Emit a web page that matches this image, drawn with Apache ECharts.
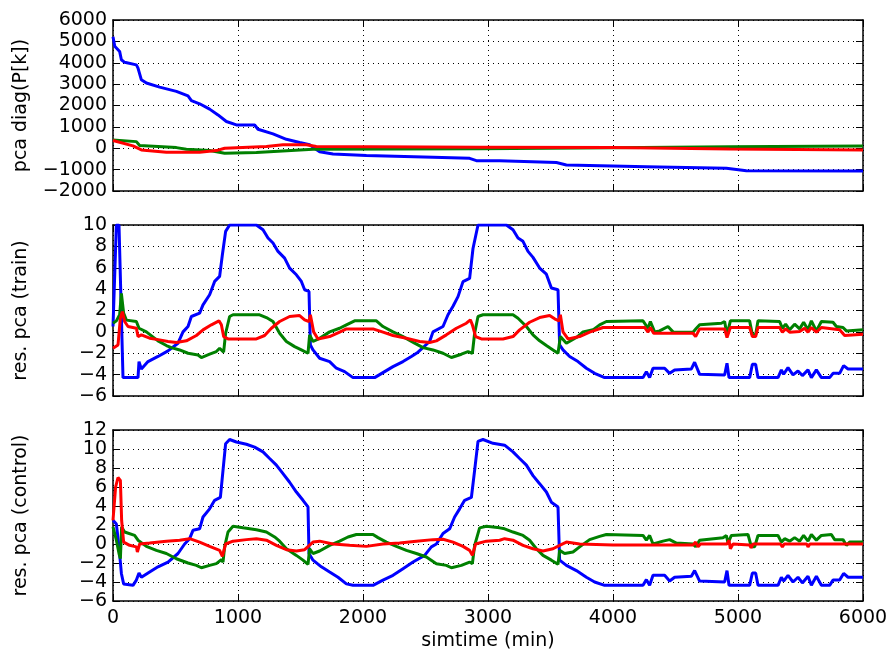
<!DOCTYPE html>
<html>
<head>
<meta charset="utf-8">
<script src="https://cdn.jsdelivr.net/npm/echarts@6/dist/echarts.min.js"></script>
<style>
  html, body { margin: 0; background: #fff; }
  #chart { width: 890px; height: 656px; }
</style>
</head>
<body>
<div id="chart"></div>
<script>
// top panel: pca diag(P[k])
var pcaBlue = [[0,5220],[14,4770],[53,4530],[67,4140],[93,4020],[187,3900],[200,3750],[227,3200],[267,3050],[373,2860],[507,2660],[600,2450],[627,2230],[693,2080],[773,1830],[840,1560],[907,1250],[987,1090],[1133,1090],[1160,890],[1280,670],[1387,420],[1493,270],[1573,160],[1653,-160],[1760,-270],[2027,-340],[2560,-420],[2853,-470],[2907,-580],[3093,-580],[3547,-670],[3627,-780],[4267,-860],[4907,-940],[5067,-1050],[6000,-1060]];
var pcaGreen = [[0,390],[187,310],[213,130],[507,30],[587,-50],[773,-110],[893,-230],[1147,-200],[1600,-50],[2933,-20],[4000,20],[4933,70],[6000,100]];
var pcaRed = [[0,360],[160,110],[227,-80],[427,-190],[693,-190],[827,-110],[893,0],[1227,80],[1360,160],[1547,160],[1627,80],[2933,50],[4000,30],[4933,-40],[6000,-80]];

// middle panel: res. pca (train)
var trainBlue = [[0,0.5],[27,10],[48,10],[80,-4.28],[200,-4.28],[208,-2.78],[227,-3.47],[280,-2.78],[360,-2.3],[440,-1.78],[520,-1.06],[560,0],[600,0.5],[627,1.44],[693,1.75],[720,2.53],[773,3.47],[813,4.72],[853,5.19],[875,7.22],[901,9.4],[933,10],[1147,10],[1200,9.56],[1240,8.78],[1280,8.31],[1320,7.53],[1373,6.9],[1413,5.97],[1467,5.34],[1507,4.72],[1533,3.94],[1568,3.78],[1579,-1.22],[1600,-1.69],[1653,-2.47],[1733,-2.78],[1787,-3.4],[1853,-3.72],[1920,-4.28],[2093,-4.28],[2173,-3.72],[2240,-3.25],[2320,-2.78],[2387,-2.3],[2440,-1.9],[2533,-0.9],[2560,0],[2640,0.5],[2680,1.6],[2720,2.4],[2760,3.3],[2800,4.7],[2853,5.0],[2880,7.8],[2920,10],[3147,10],[3200,9.56],[3240,8.78],[3280,8.47],[3320,7.53],[3360,6.97],[3413,5.97],[3467,5.4],[3507,4.1],[3560,3.94],[3573,-1.22],[3600,-1.69],[3653,-2.3],[3720,-2.78],[3787,-3.4],[3853,-3.88],[3933,-4.28],[4240,-4.28],[4267,-3.72],[4293,-4.28],[4320,-3.4],[4413,-3.4],[4453,-3.88],[4493,-3.56],[4627,-3.47],[4653,-2.84],[4693,-3.97],[4893,-4.03],[4912,-2.94],[4928,-4.28],[5093,-4.28],[5115,-3.03],[5141,-3.03],[5160,-4.28],[5320,-4.28],[5347,-3.56],[5365,-3.97],[5400,-3.34],[5440,-4.03],[5480,-3.66],[5515,-4.09],[5560,-3.56],[5587,-4.28],[5627,-3.56],[5667,-4.28],[5733,-4.28],[5760,-3.88],[5813,-3.88],[5845,-3.16],[5880,-3.47],[6000,-3.47]];
var trainGreen = [[0,0.81],[27,1.03],[53,1.6],[67,3.6],[85,1.75],[107,1.1],[187,0.97],[208,0.34],[267,0],[360,-0.84],[427,-1.28],[467,-1.47],[533,-1.69],[600,-2.0],[680,-2.16],[707,-2.4],[773,-2.09],[827,-1.84],[853,-1.53],[885,-1.9],[901,-0.13],[933,1.44],[960,1.6],[1173,1.6],[1227,1.34],[1280,0.97],[1333,-0.13],[1387,-0.9],[1453,-1.38],[1507,-1.69],[1560,-2.0],[1573,-0.28],[1600,-0.9],[1653,-0.6],[1733,0],[1813,0.34],[1867,0.66],[1933,1.03],[2107,1.03],[2160,0.5],[2240,0],[2320,-0.44],[2413,-1.06],[2480,-1.47],[2560,-1.69],[2640,-2.0],[2707,-2.4],[2787,-2.09],[2840,-1.84],[2875,-2.0],[2893,-0.13],[2920,1.44],[2960,1.6],[3200,1.6],[3240,1.28],[3307,0.5],[3360,-0.28],[3413,-0.84],[3467,-1.28],[3520,-1.69],[3560,-2.0],[3579,-0.44],[3627,-1.06],[3707,-0.53],[3760,0],[3840,0.19],[3893,0.66],[3947,0.97],[4240,1.03],[4280,0.34],[4299,0.97],[4333,0],[4373,0.09],[4440,0.5],[4480,0],[4640,-0.03],[4667,0.34],[4693,0.66],[4867,0.81],[4893,0.97],[4912,-0.28],[4939,1.03],[5093,1.03],[5115,-0.28],[5141,-0.28],[5160,1.03],[5333,0.97],[5355,0.34],[5381,0.72],[5413,0.19],[5453,0.72],[5493,0.28],[5525,0.9],[5560,0.19],[5587,1.03],[5627,0.09],[5667,0.97],[5760,0.9],[5787,0.5],[5840,0.41],[5867,0.09],[6000,0.19]];
var trainRed = [[0,-1.53],[40,-1.22],[59,1.28],[75,1.9],[93,0.97],[120,0.5],[187,0.34],[200,-0.44],[227,-0.28],[293,-0.59],[373,-0.75],[440,-0.9],[507,-1.0],[587,-0.84],[667,-0.34],[720,0.19],[787,0.66],[848,1.03],[867,0.66],[885,-0.44],[920,-0.66],[1147,-0.66],[1213,-0.34],[1267,0.34],[1333,0.97],[1413,1.44],[1493,1.53],[1533,1.13],[1568,0.97],[1579,1.6],[1605,0],[1640,-0.66],[1733,-0.44],[1813,-0.03],[1867,0.28],[2080,0.28],[2160,-0.03],[2240,-0.34],[2347,-0.59],[2453,-0.9],[2533,-1.0],[2587,-0.84],[2667,-0.28],[2747,0.34],[2827,0.81],[2859,1.13],[2875,0.66],[2901,-0.44],[2947,-0.66],[3120,-0.66],[3200,-0.44],[3253,0.19],[3333,0.9],[3413,1.34],[3493,1.53],[3533,1.22],[3568,1.03],[3579,1.6],[3600,0],[3640,-0.66],[3733,-0.44],[3813,-0.03],[3920,0.41],[4253,0.41],[4280,-0.03],[4299,0.41],[4325,-0.13],[4640,-0.13],[4661,-0.44],[4693,0.28],[4893,0.28],[4912,-0.53],[4939,0.41],[5093,0.41],[5115,-0.44],[5141,-0.44],[5160,0.41],[5333,0.41],[5355,-0.03],[5381,0.28],[5413,-0.03],[5493,0.03],[5533,0.34],[5560,-0.03],[5587,0.41],[5627,-0.03],[5667,0.41],[5813,0.19],[5853,-0.34],[6000,-0.22]];

// bottom panel: res. pca (control)
var ctrlBlue = [[0,2.5],[27,2.1],[48,-0.3],[67,-3.1],[85,-4.2],[160,-4.35],[187,-3.8],[208,-3.05],[227,-3.5],[293,-2.95],[360,-2.4],[440,-1.9],[520,-1.0],[573,0],[613,0.56],[640,1.44],[693,1.6],[720,2.84],[773,3.7],[813,4.6],[859,4.9],[880,7.75],[901,10.56],[933,11.0],[987,10.74],[1067,10.5],[1133,10.2],[1200,9.7],[1253,9.0],[1307,8.3],[1360,7.4],[1413,6.5],[1467,5.47],[1520,4.6],[1560,3.9],[1568,-1.0],[1600,-1.7],[1667,-2.4],[1733,-2.95],[1800,-3.5],[1867,-4.2],[1920,-4.35],[2080,-4.35],[2160,-3.8],[2240,-3.3],[2320,-2.6],[2400,-1.9],[2493,-1.2],[2547,-0.3],[2587,0],[2640,1.1],[2693,1.6],[2733,2.84],[2773,3.7],[2813,4.6],[2867,4.9],[2893,7.75],[2920,10.8],[2960,11.0],[3040,10.6],[3133,10.4],[3200,9.7],[3253,9.0],[3307,8.3],[3360,7.2],[3413,6.35],[3467,5.47],[3507,4.4],[3560,3.9],[3573,-1.7],[3627,-2.25],[3707,-2.8],[3787,-3.5],[3853,-4.0],[3933,-4.35],[4240,-4.35],[4267,-3.75],[4293,-4.35],[4320,-3.3],[4413,-3.3],[4453,-3.9],[4493,-3.5],[4627,-3.4],[4653,-2.8],[4693,-3.9],[4893,-4.0],[4912,-2.8],[4928,-4.35],[5093,-4.35],[5115,-3.05],[5141,-3.05],[5160,-4.35],[5320,-4.35],[5347,-3.5],[5365,-3.9],[5400,-3.3],[5440,-4.0],[5480,-3.5],[5515,-4.1],[5560,-3.4],[5587,-4.35],[5627,-3.4],[5667,-4.35],[5733,-4.35],[5760,-3.8],[5813,-3.8],[5845,-3.1],[5880,-3.5],[6000,-3.5]];
var ctrlGreen = [[0,1.8],[27,0.4],[48,-1.0],[59,-1.55],[69,1.8],[93,1.26],[173,0.9],[200,0.4],[267,-0.25],[347,-0.67],[427,-1.0],[507,-1.55],[600,-2.0],[667,-2.25],[707,-2.5],[773,-2.25],[827,-2.07],[867,-1.65],[880,-1.9],[893,-0.3],[920,1.26],[960,1.86],[1040,1.7],[1147,1.5],[1227,1.26],[1293,0.74],[1333,0.3],[1387,-0.5],[1467,-1.2],[1520,-1.7],[1560,-2.14],[1573,-0.5],[1600,-1.0],[1653,-0.74],[1733,-0.14],[1813,0.3],[1880,0.74],[1947,1.0],[2080,1.0],[2120,0.67],[2187,0.2],[2267,-0.25],[2347,-0.67],[2427,-1.0],[2507,-1.37],[2587,-2.07],[2667,-2.25],[2707,-2.5],[2787,-2.25],[2853,-1.9],[2875,-2.07],[2893,-0.14],[2933,1.7],[2987,1.86],[3093,1.7],[3133,1.6],[3200,1.26],[3280,0.9],[3333,0.4],[3387,-0.5],[3440,-1.2],[3507,-1.7],[3560,-2.14],[3573,-0.67],[3613,-1.0],[3680,-0.84],[3733,-0.3],[3813,0.46],[3893,0.8],[3947,1.0],[4240,0.9],[4267,0.4],[4293,0.9],[4320,0],[4400,0.3],[4453,0.46],[4507,0.1],[4640,0],[4661,-0.3],[4693,0.4],[4880,0.67],[4907,0.9],[4920,0.1],[4947,0.9],[5080,1.0],[5107,-0.3],[5133,-0.3],[5160,0.9],[5320,0.9],[5347,0.2],[5373,0.56],[5413,0.3],[5453,0.67],[5493,0.3],[5525,0.9],[5560,0.3],[5587,1.0],[5627,0.4],[5667,0.9],[5747,1.0],[5773,0.46],[5840,0.46],[5867,-0.14],[5893,0.2],[6000,0.2]];
var ctrlRed = [[0,2.5],[21,6.0],[40,7.0],[59,6.7],[69,2.5],[85,0.2],[133,-0.14],[187,-0.3],[195,-0.84],[213,0],[293,0.1],[427,0.3],[533,0.4],[613,0.56],[693,0.2],[773,-0.25],[853,-0.67],[875,-1.3],[901,0],[960,0.3],[1067,0.46],[1147,0.56],[1227,0.4],[1307,-0.14],[1387,-0.6],[1467,-0.74],[1533,-0.6],[1600,0.2],[1653,0.3],[1760,0],[1893,-0.14],[2027,-0.25],[2160,0],[2293,0.1],[2427,0.3],[2560,0.46],[2640,0.5],[2720,0.2],[2800,-0.25],[2853,-0.67],[2875,-1.2],[2901,0],[2987,0.3],[3093,0.4],[3133,0.56],[3200,0.4],[3280,-0.14],[3360,-0.5],[3440,-0.74],[3520,-0.5],[3573,-0.14],[3627,0.2],[3733,0],[4000,-0.1],[4267,-0.1],[4640,-0.1],[4661,0.2],[4680,-0.3],[4700,0],[4912,0],[4928,0.4],[4939,-0.5],[4960,0],[5093,-0.1],[5105,-0.4],[5120,0],[5340,0],[5355,-0.3],[5370,0],[5550,0],[5560,-0.3],[5575,0],[6000,0]];

var panelNames = ['pca diag(P[k])', 'res. pca (train)', 'res. pca (control)'];
var yMin = [-2000, -6, -6];
var yMax = [6000, 10, 12];
var yStep = [1000, 2, 2];
var xName = 'simtime (min)';

var font = 'DejaVu Sans';
var fs = 19;
var tops = [20, 225, 430];

function minus(v) { return String(v).replace('-', '\u2212'); }
function plain(v) { return String(v); }

var grids = [], xAxes = [], yAxes = [], series = [];
var colors = ['#0000ff', '#008000', '#ff0000'];
var panelData = [[pcaBlue, pcaGreen, pcaRed], [trainBlue, trainGreen, trainRed], [ctrlBlue, ctrlGreen, ctrlRed]];

for (var i = 0; i < 3; i++) {
    grids.push({ left: 113, top: tops[i], width: 750, height: 171, outerBoundsMode: 'none', containLabel: false });
    var last = i === 2;
    xAxes.push({
        type: 'value', gridIndex: i, min: 0, max: 6000, interval: 1000, position: 'bottom',
        name: last ? xName : '', nameLocation: 'middle', nameGap: 31,
        nameTextStyle: { fontFamily: font, fontSize: fs, color: '#000' },
        axisLine: { show: true, onZero: false, lineStyle: { color: '#000', width: 1.5 } },
        axisTick: { show: true, inside: true, length: 7, lineStyle: { color: '#000', width: 1 } },
        axisLabel: { show: last, margin: 8, fontFamily: font, fontSize: fs, color: '#000', formatter: plain },
        splitLine: { show: true, lineStyle: { color: '#000', width: 1, type: [1, 4] } }
    });
    xAxes.push({
        type: 'value', gridIndex: i, min: 0, max: 6000, interval: 1000, position: 'top',
        axisLine: { show: true, onZero: false, lineStyle: { color: '#000', width: 1.5 } },
        axisTick: { show: true, inside: true, length: 7, lineStyle: { color: '#000', width: 1 } },
        axisLabel: { show: false }, splitLine: { show: false }
    });
    yAxes.push({
        type: 'value', gridIndex: i, min: yMin[i], max: yMax[i], interval: yStep[i], position: 'left',
        name: panelNames[i], nameLocation: 'middle', nameGap: 82, nameRotate: 90,
        nameTextStyle: { fontFamily: font, fontSize: fs, color: '#000' },
        axisLine: { show: true, onZero: false, lineStyle: { color: '#000', width: 1.5 } },
        axisTick: { show: true, inside: true, length: 7, lineStyle: { color: '#000', width: 1 } },
        axisLabel: { show: true, margin: 6, fontFamily: font, fontSize: fs, color: '#000', formatter: minus },
        splitLine: { show: true, lineStyle: { color: '#000', width: 1, type: [1, 4] } }
    });
    yAxes.push({
        type: 'value', gridIndex: i, min: yMin[i], max: yMax[i], interval: yStep[i], position: 'right',
        axisLine: { show: true, onZero: false, lineStyle: { color: '#000', width: 1.5 } },
        axisTick: { show: true, inside: true, length: 7, lineStyle: { color: '#000', width: 1 } },
        axisLabel: { show: false }, splitLine: { show: false }
    });
    for (var k = 0; k < 3; k++) {
        series.push({
            type: 'line', xAxisIndex: 2 * i, yAxisIndex: 2 * i, data: panelData[i][k],
            showSymbol: false, clip: true, silent: true,
            lineStyle: { color: colors[k], width: 3 }
        });
    }
}

var chart = echarts.init(document.getElementById('chart'));
chart.setOption({
    animation: false,
    backgroundColor: '#fff',
    grid: grids,
    xAxis: xAxes,
    yAxis: yAxes,
    series: series
});
</script>
</body>
</html>
